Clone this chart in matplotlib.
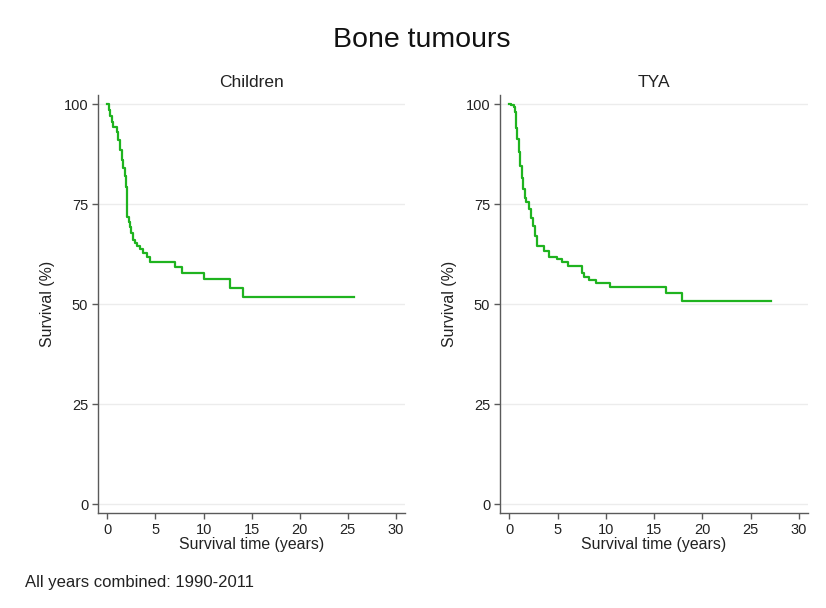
import matplotlib
matplotlib.use("Agg")
import matplotlib.pyplot as plt

plt.rcParams['font.family'] = ['Liberation Sans', 'DejaVu Sans']

# Kaplan-Meier step estimates (time in years, survival in %)
children_time = [0.0, 0.15, 0.3, 0.45, 0.6, 1.0, 1.15, 1.3, 1.5, 1.65, 1.8, 1.9, 1.97,
                 2.04, 2.2, 2.35, 2.5, 2.7, 2.9, 3.1, 3.4, 3.75, 4.1, 4.45,
                 7.06, 7.75, 10.07, 12.7, 14.05, 25.6]
children_surv = [100.0, 98.5, 97.0, 95.5, 94.2, 93.0, 91.0, 88.5, 86.0, 84.0, 82.0, 80.5, 79.3,
                 71.8, 70.5, 69.3, 67.8, 66.0, 65.2, 64.5, 63.8, 62.7, 61.8, 60.6,
                 59.3, 57.8, 56.2, 53.9, 51.8, 51.8]

tya_time = [0.0, 0.15, 0.42, 0.6, 0.7, 0.8, 0.95, 1.1, 1.25, 1.45, 1.6, 1.72, 2.06,
            2.25, 2.45, 2.65, 2.86, 3.55, 4.08, 4.95, 5.47, 6.06, 7.56, 7.75, 8.26,
            8.96, 10.45, 16.2, 17.84, 27.07]
tya_surv = [100.0, 99.7, 99.2, 97.9, 94.0, 91.2, 88.0, 84.6, 81.5, 78.7, 76.5, 75.4, 73.8,
            71.5, 69.6, 67.0, 64.6, 63.3, 61.7, 61.2, 60.6, 59.6, 57.8, 56.8, 56.0,
            55.3, 54.3, 52.7, 50.8, 50.8]

panels = [("Children", children_time, children_surv),
          ("TYA", tya_time, tya_surv)]

x_ticks = [0, 5, 10, 15, 20, 25, 30]
y_ticks = [0, 25, 50, 75, 100]

W, H = 826, 608
fig = plt.figure(figsize=(W / 100, H / 100), dpi=100)
fig.patch.set_facecolor('white')

axes_px = [(98, 405), (500, 808)]
top_px, bottom_px = 95, 513
line_color = '#1fb31f'
spine_color = '#5a5a5a'

for (label, t, s), (x0, x1) in zip(panels, axes_px):
    ax = fig.add_axes([x0 / W, 1 - bottom_px / H, (x1 - x0) / W, (bottom_px - top_px) / H])
    ax.step(t, s, where='post', color=line_color, lw=1.6, zorder=3)
    ax.set_xlim(-0.98, 30.95)
    ax.set_ylim(-2.25, 102.25)
    ax.set_xticks(x_ticks)
    ax.set_yticks(y_ticks)
    ax.set_yticklabels([str(v) for v in y_ticks], rotation=0)
    ax.grid(axis='y', color='#ececec', lw=1.0, zorder=0)
    ax.grid(axis='x', visible=False)
    for side in ('top', 'right'):
        ax.spines[side].set_visible(False)
    for side in ('left', 'bottom'):
        ax.spines[side].set_color(spine_color)
        ax.spines[side].set_linewidth(1.0)
    ax.tick_params(axis='both', direction='out', length=4.5, width=1.0,
                   color=spine_color, labelsize=10.5, labelcolor='#222222', pad=2.5)
    ax.set_xlabel("Survival time (years)", fontsize=11.4, color='#222222', labelpad=0)
    ax.set_ylabel("Survival (%)", fontsize=11.4, color='#222222', labelpad=6)
    ax.set_title(label, fontsize=12.5, color='#222222', pad=6)

fig.text(422 / W, 1 - 40 / H, "Bone tumours", ha='center', va='center',
         fontsize=20.5, color='#111111')
fig.text(25 / W, 1 - 583 / H, "All years combined: 1990-2011", ha='left', va='center',
         fontsize=12, color='#222222')

fig.savefig("out.png", dpi=100, facecolor='white')
